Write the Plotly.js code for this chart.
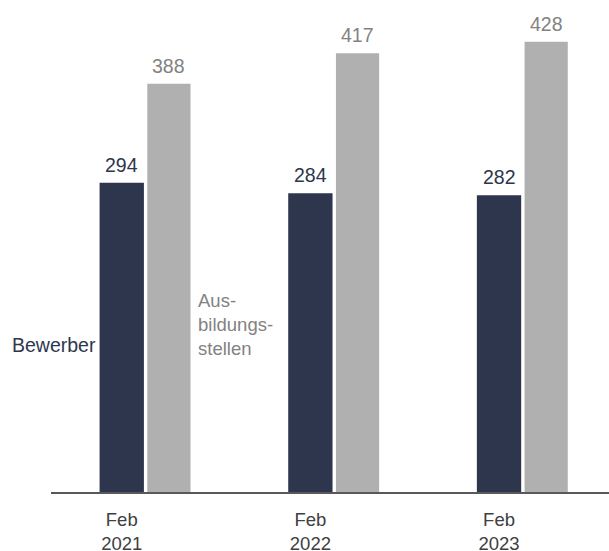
<!DOCTYPE html>
<html>
<head>
<meta charset="utf-8">
<script src="https://cdn.plot.ly/plotly-3.0.1.min.js"></script>
<style>html,body{margin:0;padding:0;background:#fff;}#chart{width:609px;height:551px;}</style>
</head>
<body>
<div id="chart"></div>
<script>
const categories = ["Feb<br>2021", "Feb<br>2022", "Feb<br>2023"];
const bewerber = [294, 284, 282];
const stellen = [388, 417, 428];
const seriesNames = ["Bewerber", "Aus-<br>bildungs-<br>stellen"];

const darkColor = "#2e364d";
const grayColor = "#b0b0b0";
const darkText = "#2e364d";
const grayText = "#828282";
const FONT = "Liberation Sans, Arial, sans-serif";
const FS = 19.5;

const W = 0.235, GAP = 0.018;

const traces = [
  {type: "bar", x: categories, y: bewerber, name: "Bewerber", marker: {color: darkColor},
   width: W, offset: -W / 2, hoverinfo: "skip"},
  {type: "bar", x: categories, y: stellen, name: "Ausbildungsstellen", marker: {color: grayColor},
   width: W - 0.006, offset: W / 2 + GAP, hoverinfo: "skip"}
];

const annotations = [];
bewerber.forEach((v, i) => annotations.push({
  x: i, y: v, xref: "x", yref: "y", text: String(v), showarrow: false,
  yanchor: "bottom", yshift: 5, font: {family: FONT, size: FS, color: darkText}
}));
stellen.forEach((v, i) => annotations.push({
  x: i + W / 2 + GAP + (W - 0.006) / 2, y: v, xref: "x", yref: "y", text: String(v), showarrow: false,
  yanchor: "bottom", yshift: 5, font: {family: FONT, size: FS, color: grayText}
}));
annotations.push({
  x: -W / 2, y: 140, xref: "x", yref: "y", text: seriesNames[0], showarrow: false,
  xanchor: "right", yanchor: "middle", xshift: -2, font: {family: FONT, size: FS, color: darkText}
});
annotations.push({
  x: W / 2 + GAP + (W - 0.006), y: 159, xref: "x", yref: "y", text: seriesNames[1], showarrow: false,
  xanchor: "left", yanchor: "middle", align: "left", xshift: 5, font: {family: FONT, size: 18.5, color: grayText}
});

const layout = {
  width: 609, height: 551,
  margin: {l: 51, r: 0, t: 10, b: 59},
  paper_bgcolor: "#fff", plot_bgcolor: "#fff",
  showlegend: false,
  barmode: "group",
  xaxis: {
    type: "category", range: [-0.375, 2.583],
    showline: true, linecolor: "#595959", linewidth: 1.5,
    showgrid: false, zeroline: false,
    ticks: "outside", ticklen: 10, tickcolor: "rgba(0,0,0,0)",
    tickfont: {family: FONT, size: 18.5, color: "#404040"}
  },
  yaxis: {range: [0, 458.2], visible: false, showgrid: false, zeroline: false},
  annotations: annotations
};

Plotly.newPlot("chart", traces, layout, {staticPlot: true, displayModeBar: false});
</script>
</body>
</html>
